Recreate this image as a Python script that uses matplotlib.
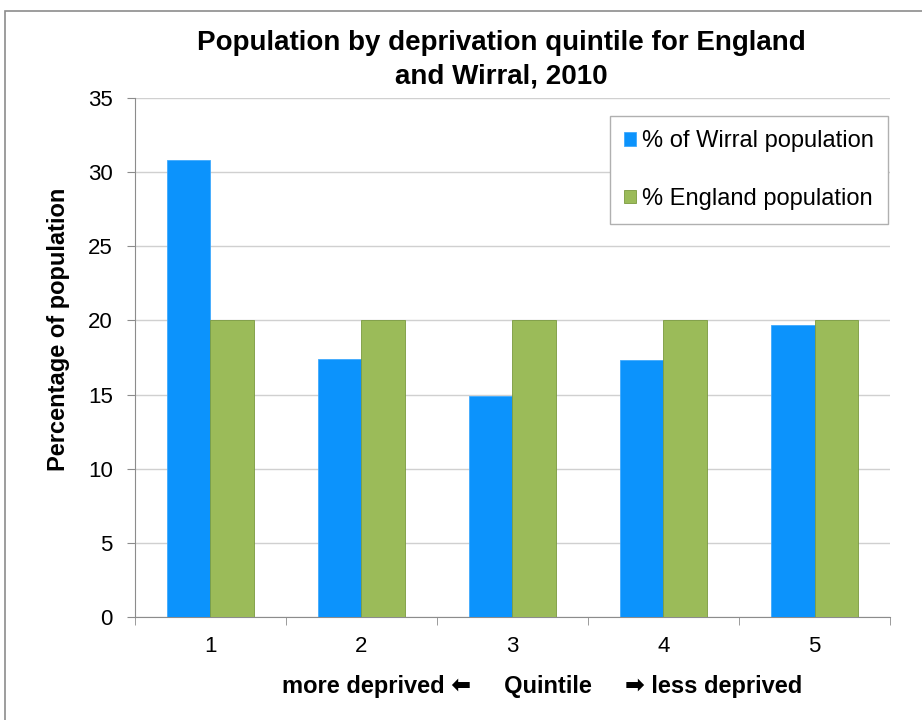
import matplotlib.pyplot as plt
import matplotlib.patches as mpatches
import numpy as np

plt.rcParams['font.family'] = ['Liberation Sans', 'DejaVu Sans']

quintiles = ['1', '2', '3', '4', '5']
wirral = [30.8, 17.4, 14.9, 17.3, 19.7]
england = [20, 20, 20, 20, 20]

fig = plt.figure(figsize=(9.22, 7.2), dpi=100)
ax = fig.add_axes([0.1464, 0.143, 0.8189, 0.721])

# outer frame of the chart
fig.patches.append(mpatches.Rectangle((5 / 922, -0.05), 1.1, 1 - 11 / 720 + 0.05,
                                      transform=fig.transFigure, fill=False,
                                      edgecolor='#8c8c8c', linewidth=1.2))

x = np.arange(len(quintiles))
w = 0.285
ax.bar(x - w / 2, wirral, w, color='#0c93fc', edgecolor='#3fa9fd', linewidth=0.6,
       label='% of Wirral population', zorder=3)
ax.bar(x + w / 2, england, w, color='#9bbb59', edgecolor='#7a9a3e', linewidth=0.6,
       label='% England population', zorder=3)

ax.set_xlim(-0.5, 4.5)
ax.set_ylim(0, 35)
ax.set_yticks(np.arange(0, 36, 5))
ax.yaxis.grid(True, color='#d0d0d0', linewidth=1, zorder=0)
ax.set_xticks(x)
ax.set_xticklabels(quintiles)
ax.set_xticks(np.arange(-0.5, 5, 1), minor=True)
ax.tick_params(axis='x', which='major', length=0, pad=14, labelsize=16)
ax.tick_params(axis='x', which='minor', length=6, color='#8c8c8c')
ax.tick_params(axis='y', length=6, color='#8c8c8c', labelsize=16, pad=10)

for s in ['top', 'right']:
    ax.spines[s].set_visible(False)
for s in ['left', 'bottom']:
    ax.spines[s].set_color('#8c8c8c')

fig.text(58 / 922, 1 - 329 / 720, 'Percentage of population', rotation=90,
         ha='center', va='center', fontsize=17, fontweight='bold')
fig.text(542 / 922, 1 - 686 / 720,
         'more deprived \u2b05     Quintile     \u27a1 less deprived',
         ha='center', va='center', fontsize=17, fontweight='bold')
fig.text(501 / 922, 1 - 60 / 720,
         'Population by deprivation quintile for England\nand Wirral, 2010',
         ha='center', va='center', fontsize=20, fontweight='bold', linespacing=1.4)

leg = ax.legend(loc='upper right', bbox_to_anchor=(0.9976, 0.965), fontsize=17,
                frameon=True, fancybox=False, edgecolor='#b0b0b0', framealpha=1,
                labelspacing=1.5, handlelength=0.5, handleheight=0.5,
                handletextpad=0.25, borderpad=0.6, borderaxespad=0)
leg.get_frame().set_linewidth(1)

fig.savefig('out.png', dpi=100)
